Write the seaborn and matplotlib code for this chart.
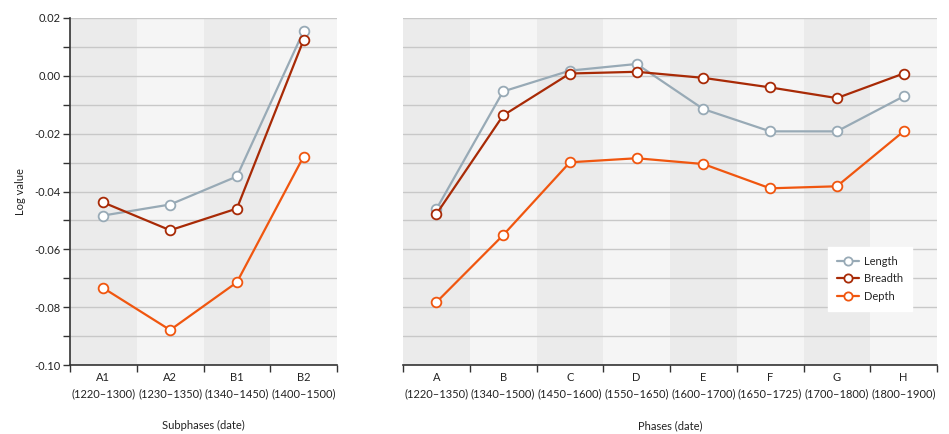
import matplotlib
matplotlib.use("Agg")
import matplotlib.pyplot as plt
import seaborn as sns
import pandas as pd
import numpy as np
from matplotlib.ticker import MultipleLocator, FixedLocator, FuncFormatter

# ---- data ----
sub_names = ["A1", "A2", "B1", "B2"]
sub_dates = ["(1220–1300)", "(1230–1350)", "(1340–1450)", "(1400–1500)"]
sub_length = [-0.0483, -0.0445, -0.0348, 0.0155]
sub_breadth = [-0.0438, -0.0534, -0.0459, 0.0124]
sub_depth = [-0.0734, -0.0879, -0.0714, -0.0279]

ph_names = ["A", "B", "C", "D", "E", "F", "G", "H"]
ph_dates = ["(1220–1350)", "(1340–1500)", "(1450–1600)", "(1550–1650)",
            "(1600–1700)", "(1650–1725)", "(1700–1800)", "(1800–1900)"]
ph_length = [-0.0461, -0.0054, 0.0018, 0.0041, -0.0115, -0.0192, -0.0192, -0.0071]
ph_breadth = [-0.0478, -0.0137, 0.0008, 0.0014, -0.0007, -0.0040, -0.0077, 0.0008]
ph_depth = [-0.0783, -0.0551, -0.0299, -0.0285, -0.0305, -0.0389, -0.0382, -0.0192]

measures = ["Length", "Breadth", "Depth"]
colors = {"Length": "#98aab6", "Breadth": "#a82a06", "Depth": "#f0560f"}

sns.set_theme(style="white")
plt.rcParams["font.family"] = ["Lato", "DejaVu Sans"]
plt.rcParams["axes.unicode_minus"] = False

FS = 8

fig = plt.figure(figsize=(9.49, 4.34), dpi=100)
ax1 = fig.add_axes([70 / 949, 1 - 365 / 434, (337 - 70) / 949, 347 / 434])
ax2 = fig.add_axes([403 / 949, 1 - 365 / 434, (937 - 403) / 949, 347 / 434], sharey=ax1)

def make_df(names, dates, L, B, D):
    cats = [f"{n}\n{d}" for n, d in zip(names, dates)]
    rows = []
    for m, vals in zip(measures, [L, B, D]):
        for c, v in zip(cats, vals):
            rows.append({"cat": c, "measure": m, "value": v})
    return cats, pd.DataFrame(rows)

dark_band = "#ebebeb"
light_band = "#f5f5f5"
grid_c = "#c8c8c8"
txt = "#222222"

def draw(ax, names, dates, L, B, D, legend):
    cats, df = make_df(names, dates, L, B, D)
    n = len(cats)
    for i in range(n):
        ax.axvspan(i - 0.5, i + 0.5, color=dark_band if i % 2 == 0 else light_band,
                   zorder=0, lw=0)
    for yv in np.arange(-0.10, 0.0201, 0.01):
        ax.axhline(yv, color=grid_c, lw=1, zorder=1)
    for m in measures:
        sub = df[df["measure"] == m]
        sns.lineplot(data=sub, x="cat", y="value", ax=ax, color=colors[m],
                     marker="o", markersize=7, markerfacecolor="white",
                     markeredgecolor=colors[m], markeredgewidth=1.3,
                     linewidth=1.6, label=m, sort=False, zorder=3)
    ax.set_xlim(-0.5, n - 0.5)
    ax.set_ylim(-0.10, 0.02)
    ax.xaxis.set_major_locator(FixedLocator(range(n)))
    ax.set_xticklabels(cats, linespacing=1.55)
    ax.xaxis.set_minor_locator(FixedLocator(np.arange(-0.5, n, 1.0)))
    ax.tick_params(axis="x", which="major", length=0, pad=5, labelsize=FS,
                   labelcolor=txt)
    ax.tick_params(axis="x", which="minor", length=5, width=1, color="#333333",
                   direction="out", bottom=True)
    ax.set_ylabel("")
    for s in ["top", "right", "left"]:
        ax.spines[s].set_visible(False)
    ax.spines["bottom"].set_color("#333333")
    ax.spines["bottom"].set_linewidth(1.2)
    if legend:
        leg = ax.legend(loc="lower left", bbox_to_anchor=(0.796, 0.156),
                        frameon=True, fontsize=FS, handlelength=2.0,
                        borderpad=0.8, labelspacing=0.6, handletextpad=0.4,
                        fancybox=False, borderaxespad=0, markerscale=0.85)
        leg.get_frame().set_facecolor("white")
        leg.get_frame().set_edgecolor("white")
        leg.get_frame().set_alpha(1)
    elif ax.get_legend():
        ax.get_legend().remove()

draw(ax1, sub_names, sub_dates, sub_length, sub_breadth, sub_depth, False)
draw(ax2, ph_names, ph_dates, ph_length, ph_breadth, ph_depth, True)

def yfmt(v, pos):
    s = f"{v:.2f}"
    return "0.00" if s in ("-0.00", "0.00") else s

ax1.spines["left"].set_visible(True)
ax1.spines["left"].set_color("#333333")
ax1.spines["left"].set_linewidth(1.2)
ax1.yaxis.set_major_locator(MultipleLocator(0.02))
ax1.yaxis.set_minor_locator(MultipleLocator(0.01))
ax1.yaxis.set_major_formatter(FuncFormatter(yfmt))
ax1.tick_params(axis="y", which="both", length=5, width=1, color="#333333",
                direction="out", left=True, labelsize=FS, labelcolor=txt, pad=2)
ax1.set_ylabel("Log value", fontsize=FS, color=txt)
ax1.yaxis.set_label_coords(-0.166, 0.5)
ax1.set_xlabel("Subphases (date)", fontsize=FS, color=txt)
ax1.xaxis.set_label_coords(0.5, -0.158)

ax2.tick_params(axis="y", which="both", left=False, labelleft=False)
ax2.set_xlabel("Phases (date)", fontsize=FS, color=txt)
ax2.xaxis.set_label_coords(0.5, -0.158)

fig.savefig("out.png", dpi=100)
